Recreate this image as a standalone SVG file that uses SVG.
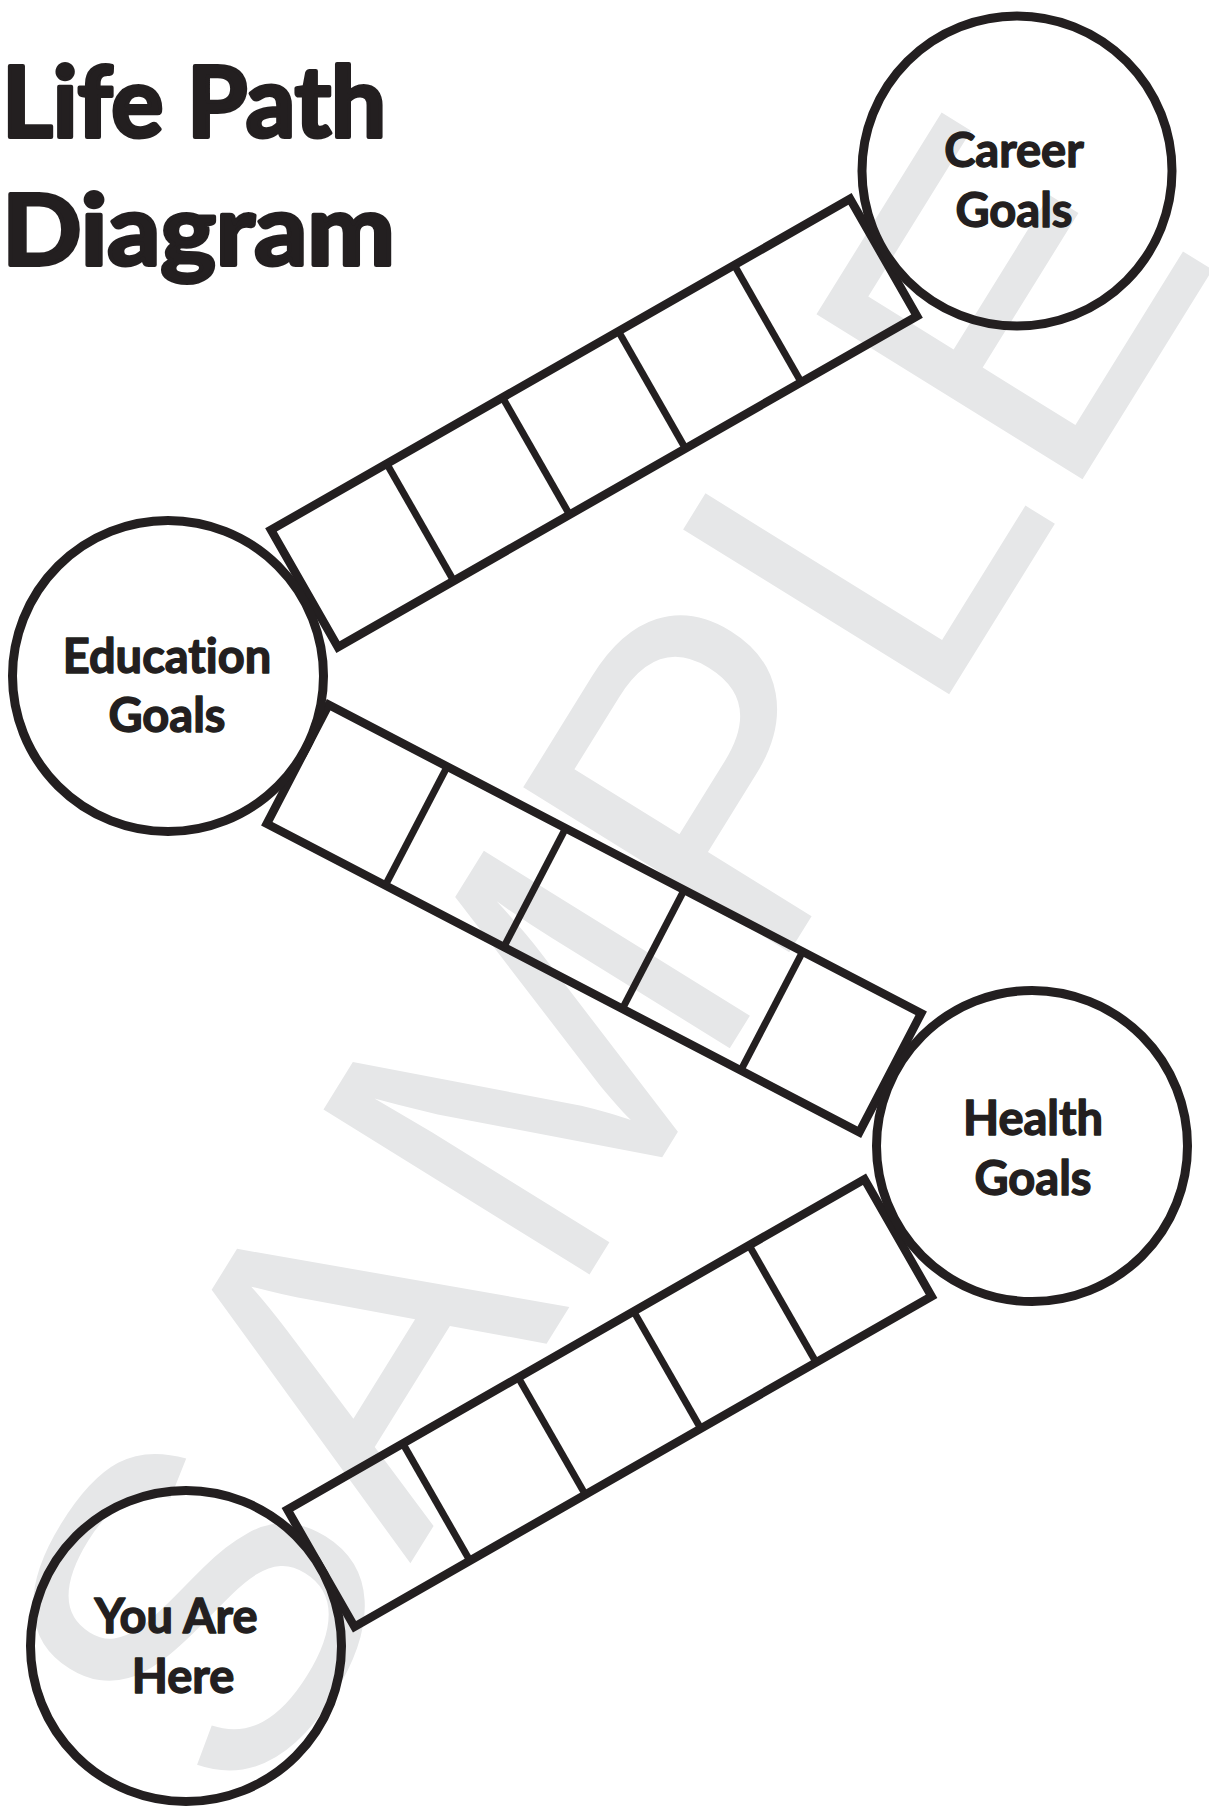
<svg xmlns="http://www.w3.org/2000/svg" width="1209" height="1807" viewBox="0 0 1209 1807">
<style>
.wm{font-family:"Liberation Sans",Arial,sans-serif;font-size:455px;fill:#e6e7e8}
.title{font-family:Lato,"Open Sans",sans-serif;font-weight:700;font-size:98px;fill:#231f20;stroke:#231f20;stroke-width:4;stroke-linejoin:round;font-variant-ligatures:none}
.lbl{font-family:Lato,"Open Sans",sans-serif;font-weight:700;font-size:47px;fill:#231f20;stroke:#231f20;stroke-width:1.4;stroke-linejoin:round;text-anchor:middle;font-variant-ligatures:none}
.circ{fill:none;stroke:#231f20;stroke-width:9}
.frame{fill:none;stroke:#231f20;stroke-width:8.5;stroke-linejoin:miter}
.rung{stroke:#231f20;stroke-width:7}
</style>
<rect width="1209" height="1807" fill="#ffffff"/>
<g id="watermark">
<text class="wm" transform="translate(250,1822) rotate(-58.2)">SAMPLE</text>
</g>
<g id="title">
<text class="title" x="2" y="137" textLength="384" lengthAdjust="spacingAndGlyphs">Life Path</text>
<text class="title" x="2" y="265" textLength="393" lengthAdjust="spacingAndGlyphs">Diagram</text>
</g>
<g id="connectors">
<g id="path1" transform="translate(594,423) rotate(-29.75)">
<rect class="frame" x="-333.5" y="-67.5" width="667" height="135"/>
<line class="rung" x1="-200.1" y1="-67.5" x2="-200.1" y2="67.5"/>
<line class="rung" x1="-66.7" y1="-67.5" x2="-66.7" y2="67.5"/>
<line class="rung" x1="66.7" y1="-67.5" x2="66.7" y2="67.5"/>
<line class="rung" x1="200.1" y1="-67.5" x2="200.1" y2="67.5"/>
</g>
<g id="path2" transform="translate(594,918.5) rotate(27.5)">
<rect class="frame" x="-334" y="-67" width="668" height="134"/>
<line class="rung" x1="-200.4" y1="-67" x2="-200.4" y2="67"/>
<line class="rung" x1="-66.8" y1="-67" x2="-66.8" y2="67"/>
<line class="rung" x1="66.8" y1="-67" x2="66.8" y2="67"/>
<line class="rung" x1="200.4" y1="-67" x2="200.4" y2="67"/>
</g>
<g id="path3" transform="translate(609.5,1403) rotate(-29.8)">
<rect class="frame" x="-332.5" y="-67.5" width="665" height="135"/>
<line class="rung" x1="-199.5" y1="-67.5" x2="-199.5" y2="67.5"/>
<line class="rung" x1="-66.5" y1="-67.5" x2="-66.5" y2="67.5"/>
<line class="rung" x1="66.5" y1="-67.5" x2="66.5" y2="67.5"/>
<line class="rung" x1="199.5" y1="-67.5" x2="199.5" y2="67.5"/>
</g>
</g>
<g id="career">
<circle class="circ" cx="1017" cy="171" r="155"/>
<text class="lbl" x="1014" y="167">Career</text>
<text class="lbl" x="1014" y="227">Goals</text>
</g>
<g id="education">
<circle class="circ" cx="168" cy="676" r="155.5"/>
<text class="lbl" x="167" y="673">Education</text>
<text class="lbl" x="167" y="732">Goals</text>
</g>
<g id="health">
<circle class="circ" cx="1032" cy="1146" r="155.5"/>
<text class="lbl" x="1033" y="1135">Health</text>
<text class="lbl" x="1033" y="1195">Goals</text>
</g>
<g id="you">
<circle class="circ" cx="186" cy="1646" r="155.5"/>
<text class="lbl" x="176" y="1633">You Are</text>
<text class="lbl" x="183" y="1693">Here</text>
</g>
</svg>
